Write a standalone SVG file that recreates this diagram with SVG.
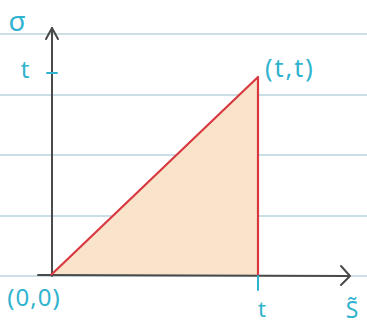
<svg xmlns="http://www.w3.org/2000/svg" width="367" height="327" viewBox="0 0 367 327">
<style>
.rule{stroke:#b9d3dc;stroke-width:1.6}
.axis{stroke:#4a4a4a;stroke-width:2;fill:none;stroke-linecap:round;stroke-linejoin:round}
.lbl{font-family:"Noto Sans","DejaVu Sans",sans-serif;fill:#2fb3cf}
.tick{stroke:#2fb3cf;stroke-width:2;stroke-linecap:round}
</style>
<rect width="367" height="327" fill="#ffffff"/>
<g id="paper">
<line class="rule" x1="0" y1="34" x2="367" y2="34"/>
<line class="rule" x1="0" y1="95" x2="367" y2="95"/>
<line class="rule" x1="0" y1="155" x2="367" y2="155"/>
<line class="rule" x1="0" y1="216" x2="367" y2="216"/>
<line class="rule" x1="0" y1="276" x2="367" y2="276"/>
</g>
<g id="region">
<polygon points="51,275 258,77 258,275" fill="#f9e3cb" stroke="none"/>
</g>
<g id="connectors">
<polyline class="axis" points="52,276 52,28"/>
<polyline class="axis" points="46,39 52,28 58,39"/>
<polyline class="axis" points="38,275 349,276"/>
<polyline class="axis" points="341,266 350,276 341,285"/>
<polyline points="51,275 258,77 258,275" fill="none" stroke="#d8383f" stroke-width="2.2" stroke-linejoin="round"/>
<line class="tick" x1="47" y1="73" x2="57" y2="73"/>
<line class="tick" x1="258" y1="276" x2="258" y2="290"/>
</g>
<g id="labels">
<text class="lbl" x="17" y="31" font-size="28" text-anchor="middle">σ</text>
<text class="lbl" x="25" y="78" font-size="24" text-anchor="middle">t</text>
<text class="lbl" x="265" y="77" font-size="25" letter-spacing="2">(t,t)</text>
<text class="lbl" x="34" y="306" font-size="24" text-anchor="middle" letter-spacing="1">(0,0)</text>
<text class="lbl" x="262" y="317" font-size="22" text-anchor="middle">t</text>
<text class="lbl" x="352" y="318" font-size="23" text-anchor="middle">S̃</text>
</g>
</svg>
